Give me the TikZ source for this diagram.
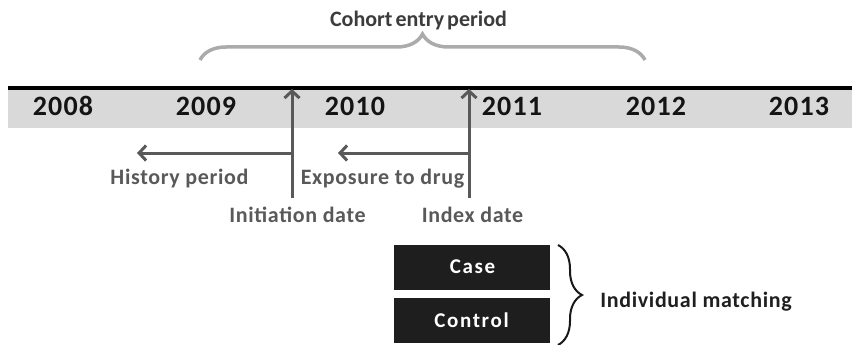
\documentclass[tikz,border=0pt]{standalone}
\usepackage{fontspec}
\setmainfont{Carlito}
\usetikzlibrary{arrows.meta,decorations.pathreplacing}
\definecolor{bandgray}{HTML}{D9D9D9}
\definecolor{arrowgray}{HTML}{595959}
\definecolor{bracegray}{HTML}{ABABAB}
\definecolor{boxblack}{HTML}{1E1E1E}
\definecolor{titlegray}{HTML}{3C3C3C}
\begin{document}
\begin{tikzpicture}[x=1pt,y=-1pt,
  year/.style={font=\fontsize{28}{28}\selectfont\bfseries\addfontfeature{LetterSpace=4}, text=black!92, inner sep=0, anchor=base},
  lbl/.style={font=\fontsize{22}{22}\selectfont\bfseries\addfontfeature{LetterSpace=3}, text=arrowgray, inner sep=0, anchor=base},
  arr/.style={draw=arrowgray, line width=3pt, -{Straight Barb[length=7pt,width=15pt]}},
  casebox/.style={fill=boxblack, minimum width=156pt, minimum height=45pt, inner sep=0},
  boxtext/.style={font=\fontsize{21}{21}\selectfont\bfseries\addfontfeature{LetterSpace=8}, text=white, inner sep=0, anchor=base},
  titletext/.style={font=\fontsize{22}{22}\selectfont\bfseries, text=titlegray, inner sep=0, anchor=base}]
\useasboundingbox (0,0) rectangle (852,345);
% band and timeline
\fill[bandgray] (8,90) rectangle (852,128);
\coordinate (tl0) at (8,88);
\coordinate (tl1) at (852,88);
\draw[line width=4pt] (tl0) -- (tl1);
% years
\node[year] (y2008) at (63,115) {2008};
\node[year] (y2009) at (206,115) {2009};
\node[year] (y2010) at (355,115) {2010};
\node[year] (y2011) at (512,115) {2011};
\node[year] (y2012) at (656,115) {2012};
\node[year] (y2013) at (799,115) {2013};
% cohort entry brace
\node[titletext] (title) at (418.5,27) {Cohort\hspace{3pt}entry\hspace{3pt}period};
\coordinate (cb0) at (200,60);
\coordinate (cb1) at (645,60);
\draw[bracegray, line width=3.5pt, decorate, decoration={brace, amplitude=26pt}] (cb0) -- (cb1);
% vertical arrows
\coordinate (initTop) at (292,89);
\coordinate (initBot) at (292,198);
\coordinate (idxTop) at (469,89);
\coordinate (idxBot) at (469,198);
\draw[arr] (initBot) -- (initTop);
\draw[arr] (idxBot) -- (idxTop);
% horizontal arrows
\coordinate (histStart) at (292,153);
\coordinate (histEnd) at (137,153);
\coordinate (expStart) at (469,153);
\coordinate (expEnd) at (338,153);
\draw[arr] (histStart) -- (histEnd);
\draw[arr] (expStart) -- (expEnd);
% labels
\node[lbl] (hist) at (179.5,184) {History period};
\node[lbl] (expo) at (382.5,184) {Exposure to drug};
\node[lbl] (init) at (297.5,222) {Initiation date};
\node[lbl] (idx) at (472.5,222) {Index date};
% case / control
\node[casebox] (case) at (472,267.5) {};
\node[casebox] (control) at (472,320.5) {};
\node[boxtext] (casetxt) at (472.5,273) {Case};
\node[boxtext] (controltxt) at (471.5,327) {Control};
\coordinate (rb0) at (558,245);
\coordinate (rb1) at (558,345);
\draw[black!90, line width=2pt, decorate, decoration={brace, amplitude=24pt}] (rb0) -- (rb1);
\node[lbl, text=black!88] (match) at (696,307) {Individual matching};
\end{tikzpicture}
\end{document}
